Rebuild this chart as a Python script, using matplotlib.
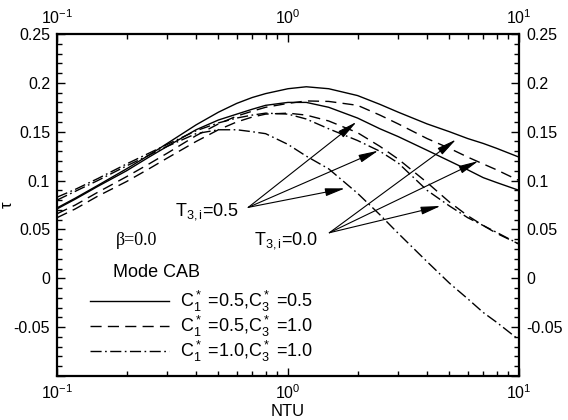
import numpy as np
import matplotlib
matplotlib.use("Agg")
import matplotlib.pyplot as plt
from matplotlib.ticker import LogLocator, MultipleLocator, FixedLocator, FuncFormatter, NullFormatter

plt.rcParams['font.family'] = ['Liberation Sans', 'DejaVu Sans']
plt.rcParams['mathtext.fontset'] = 'custom'
plt.rcParams['mathtext.rm'] = 'Liberation Sans'
plt.rcParams['mathtext.it'] = 'Liberation Sans:italic'
plt.rcParams['mathtext.bf'] = 'Liberation Sans:bold'

# ---- data ----
ntu = [0.1, 0.12, 0.15, 0.2, 0.25, 0.3, 0.4, 0.5, 0.6, 0.7, 0.8, 1.0, 1.2,
       1.5, 2.0, 2.5, 3.0, 4.0, 5.0, 6.0, 7.0, 8.0, 10.0]

solid_upper = [0.072, 0.082, 0.095, 0.112, 0.126, 0.138, 0.157, 0.170, 0.179, 0.185,
               0.189, 0.194, 0.196, 0.194, 0.187, 0.178, 0.170, 0.158, 0.150, 0.143,
               0.138, 0.133, 0.124]
solid_lower = [0.071, 0.081, 0.094, 0.110, 0.124, 0.135, 0.152, 0.162, 0.168, 0.173,
               0.177, 0.180, 0.180, 0.175, 0.164, 0.153, 0.145, 0.131, 0.120, 0.111,
               0.103, 0.098, 0.090]
dashed_upper = [0.066, 0.075, 0.088, 0.104, 0.117, 0.128, 0.146, 0.158, 0.166, 0.171,
                0.175, 0.179, 0.1815, 0.181, 0.177, 0.167, 0.158, 0.143, 0.133, 0.124,
                0.117, 0.111, 0.100]
dashed_lower = [0.062, 0.071, 0.084, 0.099, 0.112, 0.123, 0.140, 0.152, 0.160, 0.165,
                0.168, 0.169, 0.167, 0.161, 0.149, 0.135, 0.122, 0.098, 0.078, 0.064,
                0.054, 0.046, 0.035]
dashdot_upper = [0.083, 0.091, 0.102, 0.117, 0.128, 0.137, 0.151, 0.159, 0.164, 0.167,
                 0.169, 0.168, 0.163, 0.153, 0.141, 0.130, 0.118, 0.090, 0.074, 0.062,
                 0.054, 0.047, 0.035]
dashdot_lower = [0.080, 0.089, 0.100, 0.115, 0.126, 0.135, 0.148, 0.152, 0.152, 0.150,
                 0.148, 0.137, 0.125, 0.112, 0.087, 0.065, 0.046, 0.017, -0.005, -0.021,
                 -0.035, -0.045, -0.063]

legend_labels = [r'$\mathregular{C_1^*}$ =0.5,$\mathregular{C_3^*}$ =0.5',
                 r'$\mathregular{C_1^*}$ =0.5,$\mathregular{C_3^*}$ =1.0',
                 r'$\mathregular{C_1^*}$ =1.0,$\mathregular{C_3^*}$ =1.0']

# annotation arrows: origin and tips (NTU, tau)
t05_origin = (0.673, 0.0726)
t05_tips = [(1.98, 0.160), (2.46, 0.1306), (1.765, 0.092)]
t00_origin = (1.51, 0.0466)
t00_tips = [(5.34, 0.142), (6.67, 0.120), (4.58, 0.074)]

yticks = [-0.1, -0.05, 0, 0.05, 0.1, 0.15, 0.2, 0.25]

# ---- figure ----
fig = plt.figure(figsize=(5.68, 4.2), dpi=100)
ax = fig.add_axes([57/568, 44/420, 462/568, 342/420])

lw = 1.0
dash = (0, (8, 4.5))
dashdot = (0, (8, 2.5, 1.2, 2.5))
l1, = ax.plot(ntu, solid_upper, color='k', lw=lw, ls='-')
ax.plot(ntu, solid_lower, color='k', lw=lw, ls='-')
l2, = ax.plot(ntu, dashed_upper, color='k', lw=lw, ls=dash)
ax.plot(ntu, dashed_lower, color='k', lw=lw, ls=dash)
l3, = ax.plot(ntu, dashdot_upper, color='k', lw=lw, ls=dashdot)
ax.plot(ntu, dashdot_lower, color='k', lw=lw, ls=dashdot)

ax.set_xscale('log')
ax.set_xlim(0.1, 10)
ax.set_ylim(-0.1, 0.25)

ax.yaxis.set_major_locator(FixedLocator(yticks))
ax.yaxis.set_minor_locator(MultipleLocator(0.01))

def yfmt(v, pos):
    if abs(v + 0.1) < 1e-9:
        return ''
    if abs(v) < 1e-9:
        return '0'
    return ('%g' % round(v, 3))
ax.yaxis.set_major_formatter(FuncFormatter(yfmt))

ax.xaxis.set_major_locator(LogLocator(base=10, numticks=10))
ax.xaxis.set_minor_locator(LogLocator(base=10, subs=np.arange(2, 10), numticks=10))
ax.xaxis.set_minor_formatter(NullFormatter())

ax.tick_params(which='both', direction='in', top=True, right=True,
               labeltop=True, labelright=True, labelsize=11.5, width=1.0)
ax.tick_params(which='major', length=6, pad=5)
ax.tick_params(which='minor', length=3.5)
for s in ax.spines.values():
    s.set_linewidth(1.6)

ax.set_xlabel('NTU', fontsize=12, labelpad=2)
ax.set_ylabel('τ', fontsize=12, rotation=90)
ax.yaxis.set_label_coords(-0.092, 0.5)

# texts
ax.text(0.18, 0.039, 'β=0.0', fontsize=13, family=['Liberation Serif', 'DejaVu Serif'],
        ha='left', va='center')
ax.text(0.175, 0.0015, 'Mode CAB', fontsize=13, ha='left', va='baseline')

ax.annotate(r'$\mathregular{T_{3,i}}$=0.5', xy=t05_origin, xytext=(-7, -3),
            textcoords='offset points', ha='right', va='center', fontsize=13)
ax.annotate(r'$\mathregular{T_{3,i}}$=0.0', xy=t00_origin, xytext=(-8, -5.5),
            textcoords='offset points', ha='right', va='center', fontsize=13)

for origin, tips in [(t05_origin, t05_tips), (t00_origin, t00_tips)]:
    for tip in tips:
        ax.annotate('', xy=tip, xytext=origin,
                    arrowprops=dict(arrowstyle='-|>,head_length=1.0,head_width=0.2',
                                    lw=0.8, color='k', shrinkA=0, shrinkB=0,
                                    mutation_scale=12))

leg = ax.legend([l1, l2, l3], legend_labels, loc='upper left',
                bbox_to_anchor=(33/462, 0.255), frameon=False, fontsize=13,
                handlelength=4.4, handletextpad=0.6, labelspacing=0.0,
                borderpad=0, borderaxespad=0)

fig.savefig('out.png', dpi=100)
